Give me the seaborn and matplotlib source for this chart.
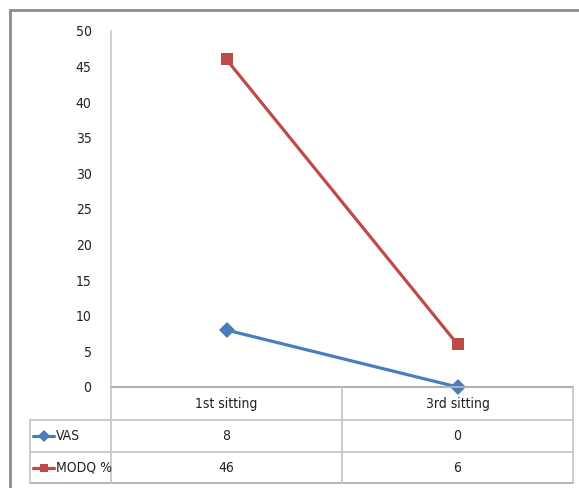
import matplotlib
matplotlib.use('Agg')

import pandas as pd
import matplotlib.pyplot as plt
import seaborn as sns
from matplotlib.lines import Line2D
from matplotlib import font_manager

# -----------------------------
# DATA
# -----------------------------
categories = ["1st sitting", "3rd sitting"]
series_names = ["VAS", "MODQ %"]
vas_values = [8, 0]
modq_values = [46, 6]
y_ticks = list(range(0, 55, 5))

colors = {"VAS": "#4A7EBB", "MODQ %": "#BE4B48"}
markers = {"VAS": "D", "MODQ %": "s"}

df = pd.DataFrame({
    "pos": [0, 1, 0, 1],
    "value": vas_values + modq_values,
    "series": ["VAS"] * 2 + ["MODQ %"] * 2,
})

# -----------------------------
# FIGURE
# -----------------------------
sns.set_style("white")
names = {f.name for f in font_manager.fontManager.ttflist}
narrow = [n for n in ["Liberation Sans Narrow", "DejaVu Sans Condensed"] if n in names]
print("narrow fonts:", narrow)
plt.rcParams['font.family'] = narrow + ['DejaVu Sans']
plt.rcParams['font.stretch'] = 'condensed'

W, H = 579, 488
fig = plt.figure(figsize=(W / 100, H / 100), dpi=100)


def fx(x):
    return x / W


def fy(y):
    return 1 - y / H


left, right, top, bottom = 111, 573, 31, 387
ax = fig.add_axes([fx(left), fy(bottom), fx(right - left), (bottom - top) / H])

sns.lineplot(data=df, x="pos", y="value", hue="series", style="series",
             palette=colors, markers=markers, dashes=False, linewidth=2.3,
             markersize=8, markeredgewidth=0, legend=False, ax=ax)

ax.set_xlim(-0.5, 1.5)
ax.set_ylim(0, 50)
ax.set_yticks(y_ticks)
ax.set_yticklabels([str(t) for t in y_ticks], fontsize=10, color="#222222")
ax.set_xticks([])
ax.set_xlabel("")
ax.set_ylabel("")
ax.tick_params(axis="y", length=0, pad=14)
for s in ["top", "right"]:
    ax.spines[s].set_visible(False)
ax.spines["left"].set_color("#c8c8c8")
ax.spines["bottom"].set_color("#b0b0b0")
ax.spines["left"].set_linewidth(1.2)
ax.spines["bottom"].set_linewidth(1.5)
for line in ax.lines:
    line.set_clip_on(False)

# -----------------------------
# DATA TABLE
# -----------------------------
grid_c = "#c8c8c8"


def hline(x0, x1, y, c=grid_c, lw=1.3):
    fig.add_artist(Line2D([fx(x0), fx(x1)], [fy(y), fy(y)], color=c, lw=lw))


def vline(x, y0, y1, c=grid_c, lw=1.3):
    fig.add_artist(Line2D([fx(x), fx(x)], [fy(y0), fy(y1)], color=c, lw=lw))


mid = (left + right) / 2
row_y = [387, 420, 452, 483]
hline(30, right, 420)
hline(30, right, 452)
hline(30, right, 483, c="#b0b0b0")
vline(left, 387, 483)
vline(mid, 387, 483)
vline(right, 387, 483)
vline(30, 420, 483)

centers = [(left + mid) / 2, (mid + right) / 2]
for cx, cat in zip(centers, categories):
    fig.text(fx(cx), fy(404), cat, ha="center", va="center", fontsize=10, color="#222222")

table_rows = [vas_values, modq_values]
for i, (name, vals) in enumerate(zip(series_names, table_rows)):
    cy = (row_y[i + 1] + row_y[i + 2]) / 2
    fig.add_artist(Line2D([fx(33), fx(54)], [fy(cy), fy(cy)], color=colors[name], lw=2.3))
    fig.add_artist(Line2D([fx(43.5)], [fy(cy)], color=colors[name], marker=markers[name],
                          markersize=6, markeredgewidth=0, lw=0))
    fig.text(fx(56), fy(cy), name, ha="left", va="center", fontsize=10, color="#222222")
    for cx, v in zip(centers, vals):
        fig.text(fx(cx), fy(cy), str(v), ha="center", va="center", fontsize=10, color="#222222")

# outer chart frame (top and left only visible)
hline(10, W, 10, c="#8c8c8c", lw=2)
vline(10, 10, H, c="#8c8c8c", lw=2)

plt.savefig("out.png", dpi=100)
plt.close()
